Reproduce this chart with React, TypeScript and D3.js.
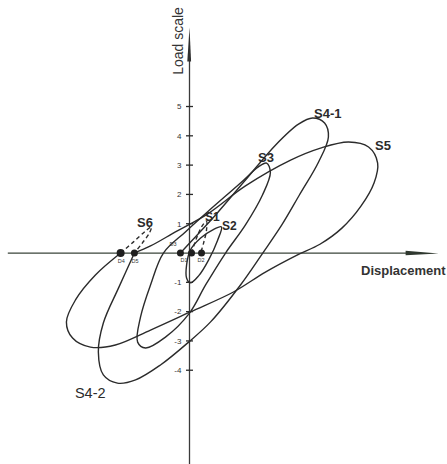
import React from "react";
import * as d3 from "d3";

// Hysteresis loops: load (vertical) vs. displacement (horizontal), same unit on both axes.
type Pt = [number, number];

const loopS2: Pt[] = [
  [1.09, 0.89], [0.96, 0.44], [0.65, -0.24], [0.31, -0.78], [0.03, -1.02],
  [-0.1, -0.85], [-0.1, -0.41], [0.03, 0.1], [0.38, 0.51], [0.78, 0.78],
];

const loopS3: Pt[] = [
  [2.63, 3.07], [2.76, 2.76], [2.49, 1.98], [1.91, 0.96], [1.23, 0],
  [0.55, -1.09], [0, -2.05], [-0.82, -2.87], [-1.5, -3.24], [-1.77, -3.04],
  [-1.67, -2.18], [-1.33, -1.09], [-0.89, 0], [-0.14, 0.72], [0.61, 1.4],
  [1.74, 2.39], [2.35, 2.94],
];

const pathS4: Pt[] = [
  [-0.31, 0], [0.2, 0.55], [0.89, 1.3], [1.91, 2.49], [2.94, 3.69],
  [3.72, 4.4], [4.2, 4.61], [4.61, 4.44], [4.74, 3.96], [4.4, 3.1],
  [3.75, 1.98], [3.15, 0.96], [2.5, 0], [1.74, -1.09], [0.72, -2.35],
  [-0.03, -3.04], [-0.99, -3.82], [-1.84, -4.33], [-2.46, -4.44],
  [-2.94, -4.16], [-3.11, -3.38], [-2.94, -2.39], [-2.42, -1.19], [-1.88, 0],
];

const pathS5: Pt[] = [
  [-1.88, 0], [-1.33, 0.24], [-0.48, 0.72], [0.61, 1.33], [1.91, 2.29],
  [3.45, 3.17], [4.47, 3.58], [5.43, 3.79], [6.11, 3.62], [6.42, 3.07],
  [6.3, 2.4], [5.85, 1.6], [5.2, 0.85], [4.45, 0.3], [3.67, -0.07], [2.59, -0.65],
  [1.5, -1.33], [0.03, -2.01], [-1.33, -2.63], [-2.53, -3.14], [-3.38, -3.21],
  [-3.99, -2.9], [-4.2, -2.35], [-3.89, -1.6], [-3.21, -0.75], [-2.35, 0],
];

const pathS1: Pt[] = [
  [0.07, 0], [0.24, 0.51], [0.41, 0.89], [0.58, 1.09], [0.58, 0.78], [0.48, 0.34], [0.38, 0],
];

const pathS6: Pt[] = [
  [-2.35, 0], [-1.91, 0.38], [-1.5, 0.75], [-1.3, 0.89], [-1.37, 0.68], [-1.61, 0.34], [-1.88, 0],
];

// Residual displacements at zero load
const residualNames = ["D4", "D5", "D3", "D1", "D2"];
const residualX = [-2.35, -1.88, -0.31, 0.07, 0.41];
const residualLabelPos: Pt[] = [
  [-2.33, -0.34], [-1.86, -0.34], [-0.56, 0.24], [-0.19, -0.31], [0.39, -0.31],
];

const loadTicks = [-4, -3, -2, -1, 1, 2, 3, 4, 5];

const curveNames = ["S1", "S2", "S3", "S4-1", "S5", "S6", "S4-2"];
const curveLabelPos: Pt[] = [
  [0.53, 1.09], [1.11, 0.78], [2.34, 3.11], [4.25, 4.61], [6.33, 3.52], [-1.79, 0.89], [-3.91, -4.95],
];
const curveLabelSize = [12, 12, 13, 13, 13, 13, 14.5];
const curveLabelWeight = [700, 700, 700, 700, 700, 700, 400];

const W = 447;
const H = 464;
const INK = "#2b2b2b";
const FONT = "'Liberation Sans', Arial, sans-serif";

export default function App() {
  const x = d3.scaleLinear().domain([-6.2, 8.5]).range([7.8, 438.6]);
  const y = d3.scaleLinear().domain([-7.2, 7.7]).range([464, 27.4]);

  const open = d3
    .line<Pt>()
    .x((d) => x(d[0]))
    .y((d) => y(d[1]))
    .curve(d3.curveCatmullRom.alpha(0.5));
  const closed = d3
    .line<Pt>()
    .x((d) => x(d[0]))
    .y((d) => y(d[1]))
    .curve(d3.curveCatmullRomClosed.alpha(0.5));

  const x0 = x(0);
  const y0 = y(0);
  const xMin = x(-6.2);
  const xMax = x(8.5);
  const yTop = y(7.7);
  const yBot = y(-7.2);

  return (
    <svg
      width={W}
      height={H}
      style={{ position: "fixed", left: 0, top: 0, background: "#fff" }}
      fontFamily={FONT}
    >
      <rect width={W} height={H} fill="#fff" />

      {/* axes */}
      <line x1={xMin} y1={y0} x2={xMax - 30} y2={y0} stroke="#3a443a" strokeWidth={1.3} />
      <polygon
        points={`${xMax - 33},${y0 - 2.2} ${xMax},${y0 + 0.5} ${xMax - 33},${y0 + 2.2}`}
        fill="#2f382f"
      />
      <line x1={x0} y1={yTop + 32} x2={x0} y2={yBot} stroke="#3a3a3a" strokeWidth={1.3} />
      <polygon
        points={`${x0 - 2.2},${yTop + 34} ${x0},${yTop} ${x0 + 1.6},${yTop + 34}`}
        fill="#2f2f2f"
      />

      {loadTicks.map((t) => (
        <g key={t}>
          <line x1={x0 - 3.5} x2={x0 + 3.5} y1={y(t)} y2={y(t)} stroke={INK} strokeWidth={1.3} />
          <text
            x={x0 - 8}
            y={y(t)}
            dy="0.35em"
            fontSize={8}
            textAnchor="end"
            fill="#333"
          >
            {t}
          </text>
        </g>
      ))}

      <text
        transform={`translate(${x0 - 11},41) rotate(-90)`}
        textAnchor="middle"
        dy="0.35em"
        fontSize={14}
        fill="#333"
      >
        Load scale
      </text>
      <text x={361} y={275} fontSize={13} fontWeight={700} fill="#333">
        Displacement
      </text>

      {/* loops */}
      <g fill="none" stroke={INK} strokeWidth={1.4} strokeLinejoin="round">
        <path d={closed(loopS2) ?? ""} />
        <path d={closed(loopS3) ?? ""} />
        <path d={open(pathS4) ?? ""} />
        <path d={open(pathS5) ?? ""} />
        <path d={open(pathS1) ?? ""} strokeDasharray="4 3" />
        <path d={open(pathS6) ?? ""} strokeDasharray="4 3" />
      </g>

      {residualX.map((v, i) => (
        <circle key={residualNames[i]} cx={x(v)} cy={y0} r={i === 0 ? 4 : 3.5} fill="#1f1f1f" />
      ))}
      {residualNames.map((n, i) => (
        <text
          key={n}
          x={x(residualLabelPos[i][0])}
          y={y(residualLabelPos[i][1])}
          fontSize={5.5}
          textAnchor="middle"
          fill="#333"
        >
          {n}
        </text>
      ))}

      {curveNames.map((n, i) => (
        <text
          key={n}
          x={x(curveLabelPos[i][0])}
          y={y(curveLabelPos[i][1])}
          fontSize={curveLabelSize[i]}
          fontWeight={curveLabelWeight[i]}
          fill="#2b2b2b"
        >
          {n}
        </text>
      ))}
    </svg>
  );
}
